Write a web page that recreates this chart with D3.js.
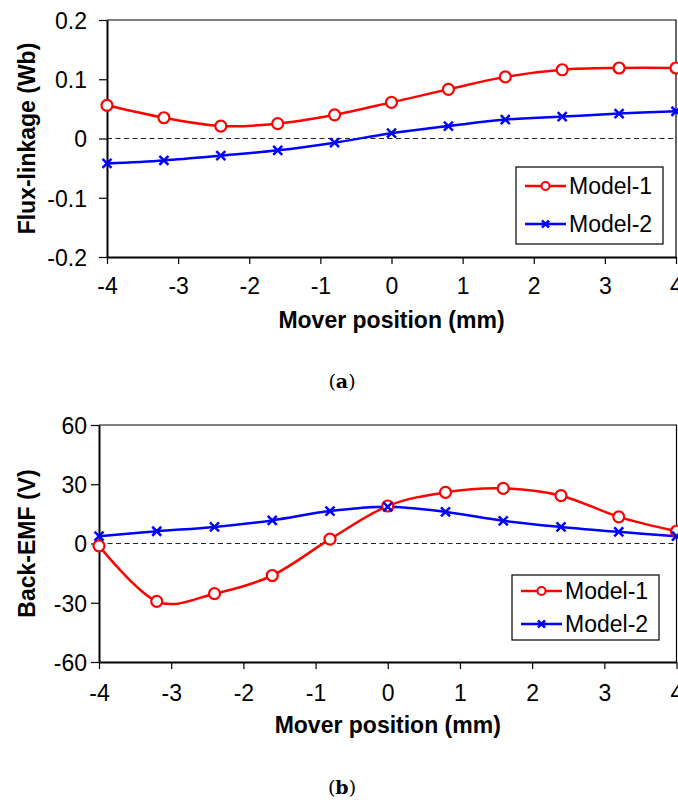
<!DOCTYPE html>
<html>
<head>
<meta charset="utf-8">
<script src="https://cdn.jsdelivr.net/npm/d3@7"></script>
<style>
  body { margin: 0; background: #fff; }
  svg text { font-family: Arial, "Liberation Sans", sans-serif; fill: #000; }
</style>
</head>
<body>
<div id="chart"></div>
<script>
// Mover positions (mm)
const positions = [-4, -3.2, -2.4, -1.6, -0.8, 0, 0.8, 1.6, 2.4, 3.2, 4];
const xTicks = [-4, -3, -2, -1, 0, 1, 2, 3, 4];

// (a) flux-linkage (Wb)
const fluxModel1 = [0.056, 0.035, 0.021, 0.025, 0.040, 0.061, 0.083, 0.104, 0.116, 0.119, 0.119];
const fluxModel2 = [-0.042, -0.037, -0.029, -0.020, -0.007, 0.009, 0.021, 0.032, 0.037, 0.042, 0.046];
const fluxTicks = [-0.2, -0.1, 0, 0.1, 0.2];

// (b) back-EMF (V)
const emfModel1 = [-1.2, -29.3, -25.4, -16.2, 2.2, 19.0, 25.9, 27.9, 24.2, 13.5, 6.2];
const emfModel2 = [3.7, 6.2, 8.4, 11.7, 16.4, 18.6, 16.0, 11.5, 8.4, 5.9, 3.7];
const emfTicks = [-60, -30, 0, 30, 60];

const seriesNames = ["Model-1", "Model-2"];
const seriesColors = ["#ff0000", "#0000ff"];

const svg = d3.select("#chart").append("svg")
  .attr("width", 678)
  .attr("height", 800);

// plain hyphen for negatives, like the original
const fmt = digits => d => d === 0 ? "0" : (+d).toFixed(digits);

function drawPanel(cfg) {
  const x = d3.scaleLinear().domain([-4, 4]).range([cfg.left, cfg.right]);
  const y = d3.scaleLinear().domain(cfg.yDomain).range([cfg.bottom, cfg.top]);
  const g = svg.append("g");

  // top and right border
  g.append("path")
    .attr("d", `M${cfg.left},${cfg.top}H${cfg.right}V${cfg.bottom}`)
    .attr("fill", "none").attr("stroke", "#000").attr("stroke-width", 1.2);

  // dashed zero line
  g.append("line")
    .attr("x1", cfg.left).attr("x2", cfg.right)
    .attr("y1", y(0)).attr("y2", y(0))
    .attr("stroke", "#222").attr("stroke-width", 1)
    .attr("stroke-dasharray", "5,3.5");

  // axes
  const xAxis = g.append("g")
    .attr("transform", `translate(0,${cfg.bottom})`)
    .call(d3.axisBottom(x).tickValues(xTicks).tickSize(7).tickSizeOuter(0).tickPadding(cfg.xPad).tickFormat(fmt(0)));
  const yAxis = g.append("g")
    .attr("transform", `translate(${cfg.left},0)`)
    .call(d3.axisLeft(y).tickValues(cfg.yTicks).tickSize(8).tickSizeOuter(0).tickPadding(cfg.yPad).tickFormat(cfg.yFormat));

  [xAxis, yAxis].forEach(a => {
    a.select(".domain").attr("stroke-width", 2);
    a.selectAll(".tick line").attr("stroke-width", 1.2);
    a.selectAll(".tick text").style("font-size", "23px").attr("fill", "#000");
  });
  yAxis.selectAll(".tick text").attr("dy", "0.36em");

  // axis titles
  g.append("text")
    .attr("x", (cfg.left + cfg.right) / 2)
    .attr("y", cfg.bottom + 71)
    .attr("text-anchor", "middle")
    .style("font-size", "23px").style("font-weight", "bold")
    .text("Mover position (mm)");

  g.append("text")
    .attr("transform", `translate(35,${(cfg.top + cfg.bottom) / 2}) rotate(-90)`)
    .attr("text-anchor", "middle")
    .style("font-size", "23px").style("font-weight", "bold")
    .text(cfg.yTitle);

  // lines
  const line = d3.line()
    .x(d => x(d[0]))
    .y(d => y(d[1]))
    .curve(d3.curveCardinal.tension(0));

  cfg.series.forEach((vals, i) => {
    const pts = positions.map((p, j) => [p, vals[j]]);
    g.append("path")
      .datum(pts)
      .attr("d", line)
      .attr("fill", "none")
      .attr("stroke", seriesColors[i])
      .attr("stroke-width", 2.5);
  });

  // markers: circles for Model-1, crosses for Model-2
  const m1 = positions.map((p, j) => [p, cfg.series[0][j]]);
  g.selectAll(".m1").data(m1).enter().append("circle")
    .attr("cx", d => x(d[0])).attr("cy", d => y(d[1]))
    .attr("r", 5.5)
    .attr("fill", "#fff").attr("stroke", seriesColors[0]).attr("stroke-width", 2.2);

  const m2 = positions.map((p, j) => [p, cfg.series[1][j]]);
  g.selectAll(".m2").data(m2).enter().append("path")
    .attr("d", d => {
      const cx = x(d[0]), cy = y(d[1]), s = 4.5;
      return `M${cx - s},${cy - s}L${cx + s},${cy + s}M${cx - s},${cy + s}L${cx + s},${cy - s}`;
    })
    .attr("stroke", seriesColors[1]).attr("stroke-width", 2.5);

  // legend
  const lg = g.append("g").attr("transform", `translate(${cfg.legend.x},${cfg.legend.y})`);
  lg.append("rect")
    .attr("width", cfg.legend.w).attr("height", cfg.legend.h)
    .attr("fill", "#fff").attr("stroke", "#000").attr("stroke-width", 1.2);

  seriesNames.forEach((name, i) => {
    const cy = cfg.legend.first + i * cfg.legend.step;
    lg.append("line")
      .attr("x1", 9).attr("x2", 50).attr("y1", cy).attr("y2", cy)
      .attr("stroke", seriesColors[i]).attr("stroke-width", 2.5);
    if (i === 0) {
      lg.append("circle").attr("cx", 29.5).attr("cy", cy).attr("r", 4)
        .attr("fill", "#fff").attr("stroke", seriesColors[0]).attr("stroke-width", 2);
    } else {
      const s = 3.5;
      lg.append("path")
        .attr("d", `M${29.5 - s},${cy - s}L${29.5 + s},${cy + s}M${29.5 - s},${cy + s}L${29.5 + s},${cy - s}`)
        .attr("stroke", seriesColors[1]).attr("stroke-width", 2.5);
    }
    lg.append("text")
      .attr("x", 53).attr("y", cy).attr("dy", "0.36em")
      .style("font-size", "23px")
      .text(name);
  });

  // caption
  const cap = svg.append("text")
    .attr("x", cfg.capX).attr("y", cfg.capY)
    .attr("text-anchor", "middle")
    .style("font-family", "'DejaVu Serif', 'Liberation Serif', serif")
    .style("font-size", "19px");
  cap.append("tspan").text("(");
  cap.append("tspan").style("font-weight", "bold").text(cfg.caption);
  cap.append("tspan").text(")");
}

drawPanel({
  left: 107, right: 676, top: 20, bottom: 257,
  yDomain: [-0.2, 0.2], yTicks: fluxTicks,
  yFormat: fmt(1), yPad: 12, xPad: 14,
  yTitle: "Flux-linkage (Wb)",
  series: [fluxModel1, fluxModel2],
  legend: { x: 516, y: 167, w: 147, h: 77, first: 19, step: 38 },
  caption: "a", capX: 342, capY: 388
});

drawPanel({
  left: 99, right: 676.5, top: 425, bottom: 662,
  yDomain: [-60, 60], yTicks: emfTicks,
  yFormat: fmt(0), yPad: 4, xPad: 16,
  yTitle: "Back-EMF (V)",
  series: [emfModel1, emfModel2],
  legend: { x: 512, y: 575, w: 147, h: 65, first: 16, step: 33 },
  caption: "b", capX: 342, capY: 794
});
</script>
</body>
</html>
